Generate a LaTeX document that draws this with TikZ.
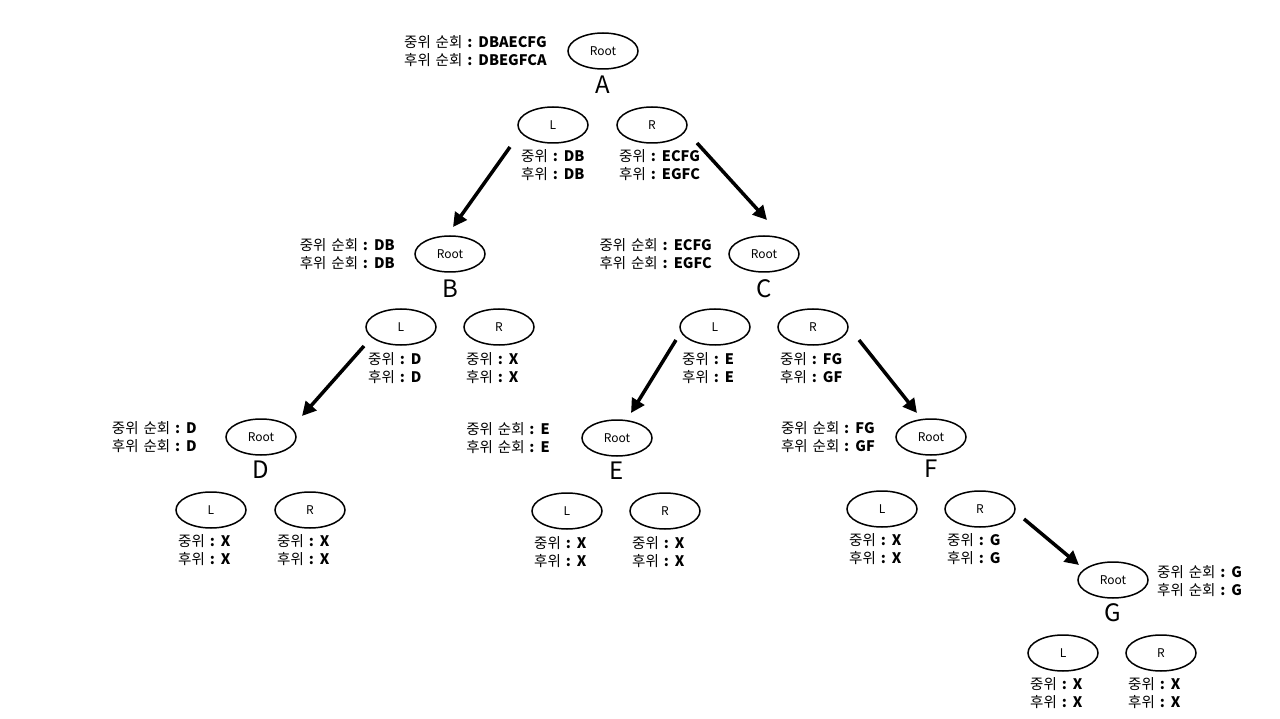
\documentclass[tikz,border=0pt]{standalone}
\usepackage{fontspec}
\setmainfont[WordSpace=1.5]{Noto Sans CJK KR}
\usepackage{tikz}
\usetikzlibrary{shapes.geometric,arrows.meta}

\newcommand{\travinfo}[2]{중위 순회 \textbf{: #1}\\후위 순회 \textbf{: #2}}
\newcommand{\subinfo}[2]{중위 \textbf{: #1}\\후위 \textbf{: #2}}

\begin{document}
\begin{tikzpicture}[x=1pt, y=-1pt]

\tikzstyle{oval} = [ellipse, draw, line width=1.5pt,
                    minimum width=70pt, minimum height=36pt,
                    inner sep=0pt, font=\fontsize{12}{13}\selectfont]
\tikzstyle{trav} = [inner sep=0pt, align=left,
                    font=\fontsize{14.5}{18}\selectfont]
\tikzstyle{tag}  = [inner sep=0pt, font=\fontsize{24}{24}\selectfont]
\tikzstyle{arr}  = [line width=3.5pt,
                    -{Triangle[length=14pt,width=14pt]}]

\useasboundingbox (0,0) rectangle (1280,719);

% ── A: whole tree ─────────────────────────────────────
\node[oval] (rootA) at (603,51)  {Root};
\node[tag]  (tagA)  at (603,85)  {A};
\node[trav, anchor=east] (travA) at (547,51) {\travinfo{DBAECFG}{DBEGFCA}};
\node[oval] (lA)    at (553,125) {L};
\node[oval] (rA)    at (652,125) {R};
\node[trav, anchor=west] (lTravA) at (521,165) {\subinfo{DB}{DB}};
\node[trav, anchor=west] (rTravA) at (619,165) {\subinfo{ECFG}{EGFC}};

% ── B: left subtree of A ──────────────────────────────
\node[oval] (rootB) at (450,254) {Root};
\node[tag]  (tagB)  at (450,289) {B};
\node[trav, anchor=east] (travB) at (395,254) {\travinfo{DB}{DB}};
\node[oval] (lB)    at (401,327) {L};
\node[oval] (rB)    at (499,327) {R};
\node[trav, anchor=west] (lTravB) at (368,368) {\subinfo{D}{D}};
\node[trav, anchor=west] (rTravB) at (466,368) {\subinfo{X}{X}};

% ── C: right subtree of A ─────────────────────────────
\node[oval] (rootC) at (764,254) {Root};
\node[tag]  (tagC)  at (764,289) {C};
\node[trav, anchor=east] (travC) at (712,254) {\travinfo{ECFG}{EGFC}};
\node[oval] (lC)    at (715,327) {L};
\node[oval] (rC)    at (813,327) {R};
\node[trav, anchor=west] (lTravC) at (682,368) {\subinfo{E}{E}};
\node[trav, anchor=west] (rTravC) at (780,368) {\subinfo{FG}{GF}};

% ── D: left subtree of B ──────────────────────────────
\node[oval] (rootD) at (261,437) {Root};
\node[tag]  (tagD)  at (261,470) {D};
\node[trav, anchor=east] (travD) at (197,437) {\travinfo{D}{D}};
\node[oval] (lD)    at (211,510) {L};
\node[oval] (rD)    at (310,510) {R};
\node[trav, anchor=west] (lTravD) at (178,550) {\subinfo{X}{X}};
\node[trav, anchor=west] (rTravD) at (277,550) {\subinfo{X}{X}};

% ── E: left subtree of C ──────────────────────────────
\node[oval] (rootE) at (617,438) {Root};
\node[tag]  (tagE)  at (617,471) {E};
\node[trav, anchor=east] (travE) at (550,438) {\travinfo{E}{E}};
\node[oval] (lE)    at (567,511) {L};
\node[oval] (rE)    at (665,511) {R};
\node[trav, anchor=west] (lTravE) at (534,552) {\subinfo{X}{X}};
\node[trav, anchor=west] (rTravE) at (632,552) {\subinfo{X}{X}};

% ── F: right subtree of C ─────────────────────────────
\node[oval] (rootF) at (931,437) {Root};
\node[tag]  (tagF)  at (931,469) {F};
\node[trav, anchor=east] (travF) at (875,437) {\travinfo{FG}{GF}};
\node[oval] (lF)    at (882,509) {L};
\node[oval] (rF)    at (980,509) {R};
\node[trav, anchor=west] (lTravF) at (849,549) {\subinfo{X}{X}};
\node[trav, anchor=west] (rTravF) at (947,549) {\subinfo{G}{G}};

% ── G: right subtree of F ─────────────────────────────
\node[oval] (rootG) at (1113,580) {Root};
\node[tag]  (tagG)  at (1113,613) {G};
\node[trav, anchor=west] (travG) at (1157,581) {\travinfo{G}{G}};
\node[oval] (lG)    at (1063,653) {L};
\node[oval] (rG)    at (1161,653) {R};
\node[trav, anchor=west] (lTravG) at (1030,693) {\subinfo{X}{X}};
\node[trav, anchor=west] (rTravG) at (1128,693) {\subinfo{X}{X}};

% ── Arrows: subtree to its root ───────────────────────
\draw[arr] ([shift={(-43,22)}]lA.center) -- ([shift={(3,-27)}]rootB.center);
\draw[arr] ([shift={(45,18)}]rA.center)  -- ([shift={(3,-34)}]rootC.center);
\draw[arr] ([shift={(-37,19)}]lB.center) -- ([shift={(41,-21)}]rootD.center);
\draw[arr] ([shift={(-39,13)}]lC.center) -- ([shift={(14,-25)}]rootE.center);
\draw[arr] ([shift={(46,13)}]rC.center)  -- ([shift={(-14,-24)}]rootF.center);
\draw[arr] ([shift={(44,10)}]rF.center)  -- ([shift={(-34,-15)}]rootG.center);

\end{tikzpicture}
\end{document}
